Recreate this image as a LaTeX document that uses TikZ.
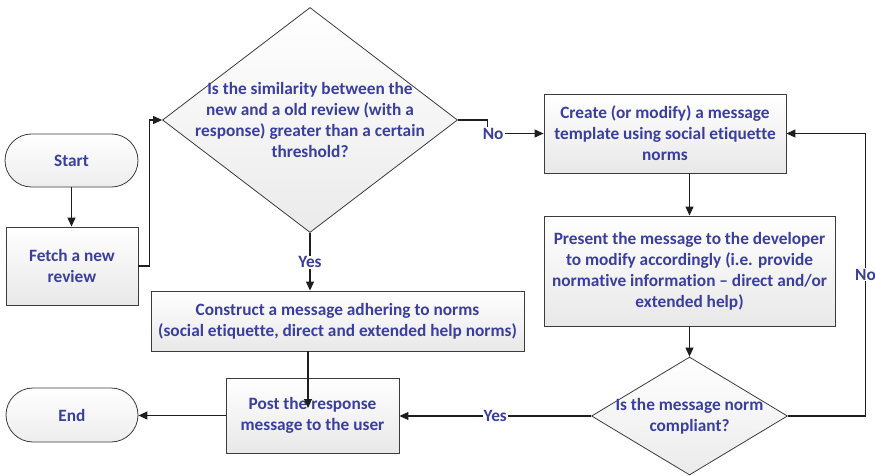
\documentclass[tikz,border=0pt]{standalone}
\usepackage{fontspec}
\setmainfont{Carlito}[Ligatures={NoCommon}]
\usetikzlibrary{arrows.meta,shapes.geometric,shapes.misc,shadows,calc}
\definecolor{txtblue}{RGB}{58,62,158}
\definecolor{edgegray}{RGB}{60,60,60}
\definecolor{linegray}{RGB}{30,30,30}

\tikzset{
  every node/.style={font=\bfseries\fontsize{17.3}{21}\selectfont, text=txtblue, align=center},
  stepbox/.style={rectangle, draw=edgegray, line width=0.9pt, inner sep=0pt,
    top color=white, bottom color=black!9,
    drop shadow={shadow xshift=1pt, shadow yshift=-1pt, fill=black!45, opacity=0.6}},
  term/.style={rounded rectangle, draw=edgegray, line width=0.8pt, inner sep=0pt,
    top color=white, bottom color=black!7},
  decision/.style={diamond, draw=edgegray, line width=0.8pt, inner sep=0pt,
    top color=white, bottom color=black!8},
  arr/.style={draw=linegray, line width=1.1pt, -{Triangle[length=9pt,width=8pt]}},
  lbl/.style={fill=white, inner sep=1pt}
}

\begin{document}
\begin{tikzpicture}[x=1pt,y=-1pt]
\fill[white] (0,0) rectangle (875,476);
\useasboundingbox (0,0) rectangle (875,476);

% terminators
\node[term, minimum width=133pt, minimum height=53pt] (start) at (71.5,160.5) {Start};
\node[term, minimum width=132pt, minimum height=54pt] (end) at (72,415) {End};

% process steps
\node[stepbox, minimum width=132pt, minimum height=78pt] (fetch) at (72,266) {Fetch a new\\review};
\node[stepbox, minimum width=373pt, minimum height=60pt] (construct) at (337.5,321)
  {Construct a message adhering to norms\\(social etiquette, direct and extended help norms)};
\node[stepbox, minimum width=173pt, minimum height=75pt] (post) at (312.5,415.5)
  {Post the response\\message to the user};
\node[stepbox, minimum width=242pt, minimum height=79pt] (create) at (665,133.5)
  {Create (or modify) a message\\template using social etiquette\\norms};
\node[stepbox, minimum width=291pt, minimum height=110pt] (present) at (689.5,271)
  {Present the message to the developer\\to modify accordingly (i.e. provide\\normative information – direct and/or\\extended help)};

% decisions
\node[decision, minimum width=295pt, minimum height=225pt,
  label={center:Is the similarity between the\\new and a old review (with a\\response) greater than a certain\\threshold?}]
  (d1) at (310,120) {};
\node[decision, minimum width=196pt, minimum height=118pt,
  label={center:Is the message norm\\compliant?}]
  (d2) at (689.5,416) {};

% connectors
\draw[arr] (start.south) -- (start.south |- fetch.north);
\draw[arr] (fetch.east) -| ([xshift=-13pt]d1.west) -- (d1.west);
\draw[arr] (d1.east) -| ($(create.west)+(-56,0)$) -- node[lbl, pos=0.1]{No} (create.west);
\draw[arr] (d1.south) -- node[lbl, pos=0.51]{Yes} (d1.south |- construct.north);
\draw[arr] (create.south -| present.north) -- (present.north);
\draw[arr] (present.south) -- (d2.north);
\draw[arr] (d2.east) -| node[lbl, pos=0.75]{No} ($(create.east)+(79,0)$) -- (create.east);
\draw[arr] (d2.west) -- node[lbl, pos=0.5]{Yes} (d2.west -| post.east);
\draw[arr] (post.west) -- (post.west -| end.east);
\draw[arr] ([xshift=-4.5pt]post.center |- construct.south) -- ([xshift=-4.5pt,yshift=7.5pt]post.center);
\end{tikzpicture}
\end{document}
